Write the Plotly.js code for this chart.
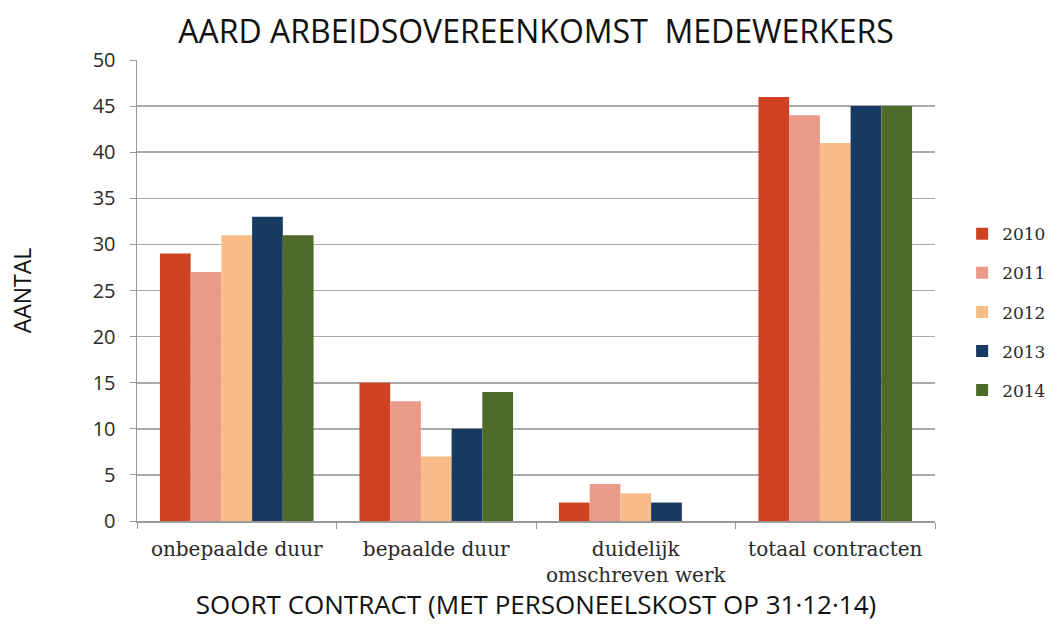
<!DOCTYPE html>
<html><head><meta charset="utf-8">
<script src="https://cdn.plot.ly/plotly-3.0.1.min.js"></script>
<style>body{margin:0;background:#fff}#c{width:1054px;height:628px}</style>
</head><body><div id="c"></div>
<script>
const categories = ["onbepaalde duur", "bepaalde duur", "duidelijk<br>omschreven werk", "totaal contracten"];
const years = ["2010", "2011", "2012", "2013", "2014"];
const v2010 = [29, 15, 2, 46];
const v2011 = [27, 13, 4, 44];
const v2012 = [31, 7, 3, 41];
const v2013 = [33, 10, 2, 45];
const v2014 = [31, 14, 0, 45];
const seriesValues = [v2010, v2011, v2012, v2013, v2014];
const colors = ["#CF4322", "#E99A88", "#F8BC88", "#173A63", "#4E6A2A"];

const traces = years.map((y, i) => ({
  type: "bar", name: y, x: categories, y: seriesValues[i],
  marker: {color: colors[i]}, legendgroup: y, hoverinfo: "y"
}));

const sans = "'Open Sans', Lato, sans-serif";
const serif = "'DejaVu Serif', 'Liberation Serif', serif";
const layout = {
  width: 1054, height: 628,
  margin: {l: 137, r: 119, t: 60, b: 107, autoexpand: false},
  paper_bgcolor: "#fff", plot_bgcolor: "#fff",
  title: {text: "AARD ARBEIDSOVEREENKOMST  MEDEWERKERS", x: 0.5, xanchor: "center", xref: "paper",
          y: 1 - 32/628, yanchor: "middle",
          font: {family: sans, size: 32, color: "#111"}},
  bargap: 0.23, bargroupgap: 0,
  xaxis: {
    showline: true, linecolor: "#9a9a9a", linewidth: 1.5, ticks: "outside", tickson: "boundaries", ticklen: 6, tickcolor: "#9a9a9a",
    ticklabelstandoff: 9,
    tickfont: {family: serif, size: 20, color: "#2a2a2a"},
    title: {text: "SOORT CONTRACT (MET PERSONEELSKOST OP 31·12·14)", standoff: 7,
            font: {family: sans, size: 26, color: "#111"}}
  },
  yaxis: {
    range: [0, 50], dtick: 5, showgrid: true, gridcolor: "#aaaaaa", gridwidth: 1.6,
    showline: true, linecolor: "#9a9a9a", linewidth: 1.5, ticks: "outside", ticklen: 6, tickcolor: "#9a9a9a", zeroline: false,
    ticklabelstandoff: 10,
    tickfont: {family: sans, size: 20, color: "#2a2a2a"},
    title: {text: "AANTAL", standoff: 54, font: {family: sans, size: 23, color: "#111"}}
  },
  legend: {x: 1.034, xanchor: "left", y: 0.453, yanchor: "middle", tracegroupgap: 14,
           font: {family: serif, size: 17, color: "#2a2a2a"},
           itemwidth: 30},
  showlegend: true
};
Plotly.newPlot("c", traces, layout, {displayModeBar: false, staticPlot: true});
</script></body></html>
